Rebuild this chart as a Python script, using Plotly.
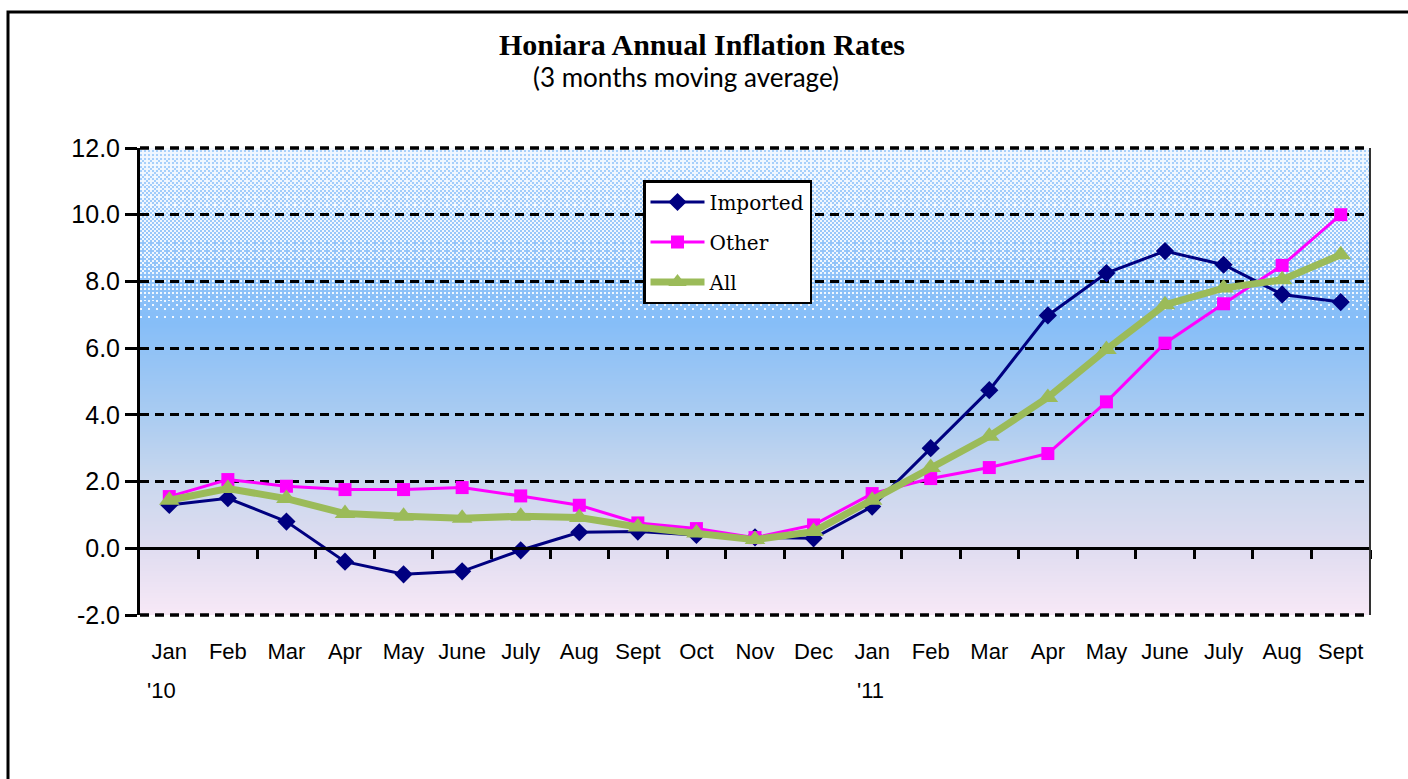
import base64
import struct
import zlib

import numpy as np
import plotly.graph_objects as go

# ---------------- data ----------------
months = ["Jan", "Feb", "Mar", "Apr", "May", "June", "July", "Aug", "Sept", "Oct", "Nov", "Dec",
          "Jan", "Feb", "Mar", "Apr", "May", "June", "July", "Aug", "Sept"]
year_labels = ["'10", "'11"]
year_positions = [0, 12]

imported = [1.3, 1.5, 0.8, -0.4, -0.78, -0.69, -0.06, 0.48, 0.5, 0.4, 0.33, 0.3,
            1.25, 3.0, 4.74, 6.98, 8.25, 8.91, 8.5, 7.61, 7.38]
other = [1.55, 2.06, 1.86, 1.76, 1.76, 1.82, 1.57, 1.29, 0.76, 0.59, 0.32, 0.7,
         1.64, 2.09, 2.42, 2.84, 4.39, 6.15, 7.33, 8.48, 10.0]
all_items = [1.44, 1.79, 1.49, 1.04, 0.96, 0.9, 0.96, 0.92, 0.64, 0.46, 0.26, 0.5,
             1.44, 2.42, 3.36, 4.52, 5.96, 7.3, 7.8, 8.05, 8.8]

y_ticks = [-2, 0, 2, 4, 6, 8, 10, 12]
y_ticklabels = ["-2.0", "0.0", "2.0", "4.0", "6.0", "8.0", "10.0", "12.0"]
y_min, y_max = -2.0, 12.0

# ---------------- layout geometry ----------------
W, H = 1408, 779
ML, MR, MT, MB = 140, 38, 148, 164
PW, PH = W - ML - MR, H - MT - MB


def px_to_paper_x(px):
    return (px - ML) / PW


def px_to_paper_y(py):
    return (H - MB - py) / PH


# ---------------- background image (gradient + dotted pattern) ----------------
def interp_colors(v, stops):
    vs = np.array([s[0] for s in stops])
    cols = np.array([s[1] for s in stops], dtype=float)
    return np.stack([np.interp(v, vs, cols[:, k]) for k in range(3)], axis=-1)


rows = np.arange(PH)
cols_px = np.arange(PW)
vals = y_max - (rows + 0.5) * (y_max - y_min) / PH
base_stops = [(-2, (248, 233, 247)), (0, (224, 221, 241)), (2, (202, 216, 238)),
              (4, (170, 204, 242)), (6.8, (134, 190, 248)), (9.0, (150, 198, 250)),
              (12, (170, 210, 252))]
base = interp_colors(vals, base_stops)  # PH x 3
white_frac = np.interp(vals, [6.7, 7.2, 8.2, 9.0, 10.5, 11.5, 12.0],
                       [0.0, 0.12, 0.3, 0.45, 0.55, 0.66, 0.75])
bayer = np.array([[0, 8, 2, 10], [12, 4, 14, 6], [3, 11, 1, 9], [15, 7, 13, 5]]) / 16 + 1 / 32
img = np.repeat(base[:, None, :], PW, axis=1)
thr = bayer[(rows[:, None] // 2) % 4, (cols_px[None, :] // 2) % 4]
mask = thr < white_frac[:, None]
img[mask] = np.array([240, 247, 255])
img = np.clip(img, 0, 255).astype(np.uint8)

raw = np.concatenate([np.zeros((PH, 1), dtype=np.uint8), img.reshape(PH, PW * 3)], axis=1).tobytes()


def chunk(tag, data):
    return struct.pack(">I", len(data)) + tag + data + struct.pack(">I", zlib.crc32(tag + data) & 0xffffffff)


png = (b"\x89PNG\r\n\x1a\n" + chunk(b"IHDR", struct.pack(">IIBBBBB", PW, PH, 8, 2, 0, 0, 0))
       + chunk(b"IDAT", zlib.compress(raw, 9)) + chunk(b"IEND", b""))
bg_uri = "data:image/png;base64," + base64.b64encode(png).decode()

# ---------------- figure ----------------
x_idx = list(range(len(months)))
fig = go.Figure()
fig.add_trace(go.Scatter(
    x=x_idx, y=imported, name="Imported", mode="lines+markers", legendgroup="a",
    line=dict(color="#000080", width=3),
    marker=dict(symbol="diamond", size=14, color="#000080")))
fig.add_trace(go.Scatter(
    x=x_idx, y=other, name="Other", mode="lines+markers", legendgroup="b",
    line=dict(color="#FF00FF", width=3),
    marker=dict(symbol="square", size=13, color="#FF00FF")))
fig.add_trace(go.Scatter(
    x=x_idx, y=all_items, name="All", mode="lines+markers", legendgroup="c",
    line=dict(color="#9BBB59", width=7),
    marker=dict(symbol="triangle-up", size=18, color="#9BBB59")))
fig.add_trace(go.Scatter(x=[], y=[], xaxis="x2", showlegend=False, hoverinfo="skip"))

fig.add_layout_image(dict(
    source=bg_uri, xref="paper", yref="paper", x=0, y=1, sizex=1, sizey=1,
    sizing="stretch", layer="below", xanchor="left", yanchor="top"))

x_range = [-0.5, len(months) - 0.5]
fig.update_layout(
    width=W, height=H, autosize=False,
    margin=dict(l=ML, r=MR, t=MT, b=MB, pad=0),
    paper_bgcolor="white", plot_bgcolor="rgba(0,0,0,0)",
    showlegend=True,
    legend=dict(x=px_to_paper_x(643), y=px_to_paper_y(180), xanchor="left", yanchor="top",
                bgcolor="white", bordercolor="black", borderwidth=2.5,
                font=dict(family="DejaVu Serif", size=20, color="black"),
                tracegroupgap=11, itemwidth=54, traceorder="grouped"),
    xaxis=dict(range=x_range, tickmode="array", tickvals=x_idx, ticktext=months,
               showgrid=False, zeroline=False, showline=False,
               ticks="outside", ticklen=17, tickcolor="rgba(0,0,0,0)",
               tickfont=dict(family="Liberation Sans", size=22, color="black")),
    xaxis2=dict(range=x_range, overlaying="x", anchor="free", position=(0 - y_min) / (y_max - y_min),
                tickmode="array", tickvals=[i + 0.5 for i in x_idx],
                ticks="outside", ticklen=9, tickwidth=3, tickcolor="black",
                showticklabels=False, showgrid=False, zeroline=False,
                showline=True, linecolor="black", linewidth=3),
    yaxis=dict(range=[y_min, y_max], tickmode="array", tickvals=y_ticks, ticktext=y_ticklabels,
               showgrid=True, gridcolor="black", gridwidth=3, griddash="9px,6px",
               zeroline=False, showline=True, linecolor="black", linewidth=3,
               ticks="outside", ticklen=12, tickwidth=3, tickcolor="black",
               tickfont=dict(family="Liberation Sans", size=25, color="black")),
)

annotations = [
    dict(text="<b>Honiara Annual Inflation Rates</b>", x=px_to_paper_x(702), y=px_to_paper_y(45),
         xref="paper", yref="paper", showarrow=False, xanchor="center", yanchor="middle",
         font=dict(family="Liberation Serif", size=30, color="black")),
    dict(text="(3 months moving average)", x=px_to_paper_x(686), y=px_to_paper_y(77),
         xref="paper", yref="paper", showarrow=False, xanchor="center", yanchor="middle",
         font=dict(family="Lato", size=26, color="black")),
]
for lbl, pos, shift in zip(year_labels, year_positions, [-8, -2]):
    annotations.append(dict(text=lbl, x=pos, y=px_to_paper_y(690), xref="x", yref="paper",
                            showarrow=False, xanchor="center", yanchor="middle", xshift=shift,
                            font=dict(family="Liberation Sans", size=22, color="black")))
fig.update_layout(annotations=annotations)

# dashed gridlines on the plot edges (plotly hides edge gridlines)
for yp in (0, 1):
    fig.add_shape(type="line", xref="paper", yref="paper", x0=0, x1=1, y0=yp, y1=yp,
                  line=dict(color="black", width=3.5, dash="9px,6px"), layer="above")
# outer frame and right edge of plot area
fig.add_shape(type="rect", xref="paper", yref="paper",
              x0=px_to_paper_x(8), x1=px_to_paper_x(1430), y0=px_to_paper_y(800), y1=px_to_paper_y(12),
              line=dict(color="black", width=3), fillcolor="rgba(0,0,0,0)", layer="above")
fig.add_shape(type="line", xref="paper", yref="paper", x0=1, x1=1, y0=0, y1=1,
              line=dict(color="#333333", width=2), layer="above")

fig.write_html("out.html", config={"displayModeBar": False},
               post_script="document.body.style.margin='0';")
